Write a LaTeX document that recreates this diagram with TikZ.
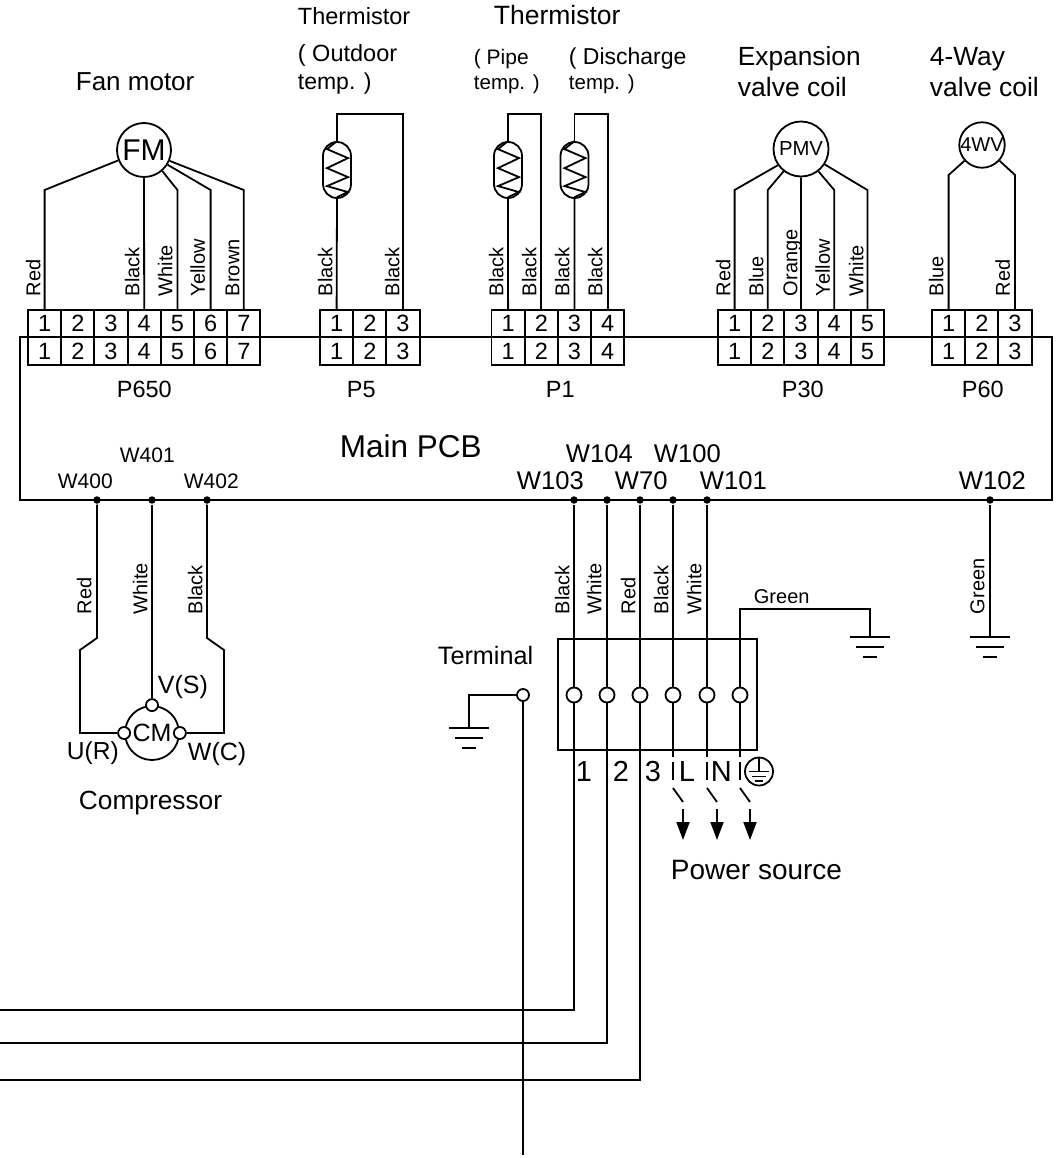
\documentclass[tikz,border=0pt]{standalone}
\usepackage{fontspec}
\setmainfont{Liberation Sans}
\usetikzlibrary{arrows.meta}

\newcommand{\fsz}[1]{\fontsize{#1}{#1}\selectfont}
% two rows of numbered pins
\newcommand{\connector}[3]{%
	\foreach \i in {1,...,#3} {
		\node[pinbox] (#1t\i) at ({#2+(\i-.5)*33.2},323.5) {\i};
		\node[pinbox] (#1b\i) at ({#2+(\i-.5)*33.2},351) {\i};
	}
}
% capsule with a zigzag
\newcommand{\thermistor}[2]{%
	\node[capsule] (#1) at (#2,170) {};
	\draw (#1.north) -- ++(-10,8) -- ++(21,9) -- ++(-21,10) -- ++(21,9) -- ++(-21,9) -- ++(21,6) -- ++(-11,5);
}

\begin{document}
\begin{tikzpicture}[x=1pt,y=-1pt,line width=1.8pt,
	pinbox/.style={draw,line width=1.9pt,minimum width=33.2pt,minimum height=27.5pt,inner sep=0pt,text height=16.5pt,text depth=0pt,font=\fsz{23.5}},
	capsule/.style={draw,rectangle,rounded corners=13.9pt,minimum width=28pt,minimum height=56pt,inner sep=0pt},
	motor/.style={draw,circle,inner sep=0pt},
	wiredot/.style={circle,fill,inner sep=0pt,minimum size=7.5pt},
	term/.style={circle,draw,fill=white,inner sep=0pt,minimum size=15pt},
	tag/.style={anchor=base west,inner sep=0pt,font=\fsz{#1}},
	tag/.default=20,
	wirelabel/.style={rotate=90,anchor=west,inner sep=0pt,text height=14.5pt,text depth=0pt,font=\fsz{20}},
	gnd/.pic={\draw (-20,0) -- (20,0) (-14,10) -- (14,10) (-7,20) -- (7,20);},
	tip/.style={-{Triangle[width=13pt,length=18pt]}}]
	\useasboundingbox (0,0) rectangle (1056,1158);

	% main board and its connectors
	\node[draw,minimum width=1032pt,minimum height=163pt,inner sep=0pt,line width=1.5pt] (PCB) at (536,418.5) {};
	\node[tag=31.5] (mainpcb) at (339,457) {Main PCB};
	\connector{Pfm}{28}{7}
	\connector{Pfive}{320}{3}
	\connector{Pone}{491.5}{4}
	\connector{Pthirty}{718}{5}
	\connector{Psixty}{932}{3}
	\node[tag=23.5] (pfmname) at (116,397) {P650};
	\node[tag=23.5] (pfivename) at (346,397) {P5};
	\node[tag=23.5] (ponename) at (545,397) {P1};
	\node[tag=23.5] (pthirtyname) at (781,397) {P30};
	\node[tag=23.5] (psixtyname) at (961,397) {P60};

	% fan motor
	\node[tag=26] (fantext) at (75,91) {Fan motor};
	\node[motor,minimum size=54pt,font=\fsz{30}] (FM) at (144,150) {FM};
	\draw (Pfmt1.north) -- (Pfmt1.north |- 0,190) -- (FM.202);
	\draw (Pfmt4.north) -- (FM.south);
	\draw (Pfmt5.north) -- (Pfmt5.north |- 0,190) -- (FM.-49);
	\draw (Pfmt6.north) -- (Pfmt6.north |- 0,190) -- (FM.-32);
	\draw (Pfmt7.north) -- (Pfmt7.north |- 0,190) -- (FM.-23);
	\foreach \x/\t in {33/Red,132/Black,165/White,197.5/Yellow,232/Brown}
		\node[wirelabel] (fm\t) at (\x,297) {\t};

	% thermistors
	\node[tag=23.5] (thA) at (297,25) {Thermistor};
	\node[tag=23.5] (thB) at (297,62) {( Outdoor};
	\node[tag=23] (thC) at (297,90) {temp. )};
	\node[tag=26.5] (thD) at (493,25) {Thermistor};
	\node[tag=21] (thE) at (473,65) {( Pipe};
	\node[tag=20.5] (thF) at (473,90) {temp. )};
	\node[tag=23] (thG) at (568,65) {( Discharge};
	\node[tag=20.5] (thH) at (568,90) {temp. )};
	\thermistor{thOut}{337}
	\thermistor{thPipe}{508}
	\thermistor{thDis}{574.5}
	\draw (Pfivet1.north) -- (thOut.south);
	\draw (thOut.north) -- (thOut.north |- 0,114) -| (Pfivet3.north);
	\draw (Ponet1.north) -- (thPipe.south);
	\draw (thPipe.north) -- (thPipe.north |- 0,114) -| (Ponet2.north);
	\draw (Ponet3.north) -- (thDis.south);
	\draw (thDis.north) -- (thDis.north |- 0,114) -| (Ponet4.north);
	\foreach \x in {325,392}
		\node[wirelabel] (pf\x) at (\x,297) {Black};
	\foreach \x in {496,529,562,595}
		\node[wirelabel] (po\x) at (\x,297) {Black};

	% expansion valve
	\node[tag=26.3] (pmvA) at (737,66) {Expansion};
	\node[tag=26.5] (pmvB) at (737,97) {valve coil};
	\node[motor,minimum size=55pt,font=\fsz{20.3}] (PMV) at (801,149) {PMV};
	\draw (Pthirtyt1.north) -- (Pthirtyt1.north |- 0,190) -- (PMV.215);
	\draw (Pthirtyt2.north) -- (Pthirtyt2.north |- 0,190) -- (PMV.232);
	\draw (Pthirtyt3.north) -- (PMV.south);
	\draw (Pthirtyt4.north) -- (Pthirtyt4.north |- 0,190) -- (PMV.-52);
	\draw (Pthirtyt5.north) -- (Pthirtyt5.north |- 0,190) -- (PMV.-33);
	\foreach \x/\t in {723/Red,756/Blue,790/Orange,822.5/Yellow,856/White}
		\node[wirelabel] (pv\t) at (\x,297) {\t};

	% four way valve
	\node[tag=26.3] (wvA) at (929,66) {4-Way};
	\node[tag=26.5] (wvB) at (929,97) {valve coil};
	\node[motor,minimum size=45pt,font=\fsz{20}] (WV) at (982,145) {4WV};
	\draw (Psixtyt1.north) -- (Psixtyt1.north |- 0,175) -- (WV.222);
	\draw (Psixtyt3.north) -- (Psixtyt3.north |- 0,175) -- (WV.-42);
	\node[wirelabel] (wvblue) at (936,297) {Blue};
	\node[wirelabel] (wvred) at (1002.5,297) {Red};

	% board terminals
	\foreach \n/\x in {W400/97,W401/152,W402/207,W103/574,W104/607,W70/640,W100/673,W101/707,W102/990}
		\node[wiredot] (\n) at (\x,500) {};
	\node[tag=21] (t400) at (57,488) {W400};
	\node[tag=21] (t401) at (119,462) {W401};
	\node[tag=21] (t402) at (183,488) {W402};
	\node[tag=25.6] (t103) at (516,489) {W103};
	\node[tag=25.6] (t104) at (565,462) {W104};
	\node[tag=25.6] (t70) at (614,489) {W70};
	\node[tag=25.6] (t100) at (653,462) {W100};
	\node[tag=25.6] (t101) at (699,489) {W101};
	\node[tag=25.6] (t102) at (958,489) {W102};

	% compressor
	\node[motor,minimum size=54pt,font=\fsz{25}] (CM) at (152,733) {CM};
	\node[term,minimum size=12pt] (CMu) at (CM.west) {};
	\node[term,minimum size=12pt] (CMv) at (CM.north) {};
	\node[term,minimum size=12pt] (CMw) at (CM.east) {};
	\draw (W400) -- (97,638) -- (80,650) |- (CMu);
	\draw (W401) -- (CMv);
	\draw (W402) -- (207,638) -- (224,650) |- (CMw);
	\node[tag=25] (vs) at (157,693) {V(S)};
	\node[tag=24.6] (ur) at (66,759) {U(R)};
	\node[tag=25] (wc) at (187,760) {W(C)};
	\node[tag=26.3] (comp) at (78,809) {Compressor};
	\node[wirelabel] (cmred) at (84,615) {Red};
	\node[wirelabel] (cmwhite) at (140,615) {White};
	\node[wirelabel] (cmblack) at (195,615) {Black};

	% terminal block
	\node[draw,minimum width=199pt,minimum height=111pt,inner sep=0pt,line width=1.5pt] (TB) at (657.5,694.5) {};
	\foreach \i/\x in {1/574,2/607,3/640,4/673,5/707,6/740}
		\node[term] (T\i) at (\x,695) {};
	\draw (W103) -- (T1.north);
	\draw (W104) -- (T2.north);
	\draw (W70) -- (T3.north);
	\draw (W100) -- (T4.north);
	\draw (W101) -- (T5.north);
	\draw (T1.south) -- (574,1010) -- (0,1010);
	\draw (T2.south) -- (607,1043) -- (0,1043);
	\draw (T3.south) -- (640,1080) -- (0,1080);
	\foreach \x/\t in {562/Black,594/White,628/Red,661/Black,694/White}
		\node[wirelabel] (tw\x) at (\x,615) {\t};
	\node[tag=25.2] (termtext) at (437,664) {Terminal};
	\node[tag=29] (n1) at (575,781) {1};
	\node[tag=29] (n2) at (612,781) {2};
	\node[tag=29] (n3) at (644,781) {3};
	\node[tag=29] (nL) at (678,781) {L};
	\node[tag=29] (nN) at (710,781) {N};
	\node[motor,minimum size=28pt] (PE) at (759,771.5) {};
	\draw (PE.north) -- (759,771.5) (749,771.5) -- (769,771.5) (752,776.5) -- (766,776.5) (755,781) -- (763,781);
	% mains side
	\foreach \i/\x in {4/673,5/707,6/740} {
		\coordinate (a\i) at (\x,757);
		\coordinate (b\i) at (\x,762);
		\coordinate (c\i) at (\x,780);
		\coordinate (d\i) at (\x,788);
		\coordinate (e\i) at ({\x+10},802);
		\coordinate (f\i) at ({\x+10},809);
		\coordinate (g\i) at ({\x+10},840);
		\draw (T\i.south) -- (a\i);
		\draw (b\i) -- (c\i);
		\draw (d\i) -- (e\i);
		\draw[tip] (f\i) -- (g\i);
	}
	\node[tag=28] (power) at (670,879) {Power source};

	% earth wires
	\coordinate (gA) at (870,637);
	\coordinate (gB) at (990,637);
	\coordinate (gC) at (469,728);
	\draw (T6.north) -- (740,609) -| (gA);
	\draw (W102) -- (gB);
	\node[term,minimum size=12pt] (Tg) at (523,695) {};
	\draw (Tg) -| (gC);
	\draw (Tg.south) -- (523,1155);
	\pic at (gA) {gnd};
	\pic at (gB) {gnd};
	\pic at (gC) {gnd};
	\node[tag=20] (greentext) at (753,603) {Green};
	\node[wirelabel] (greenlabel) at (977,615) {Green};
\end{tikzpicture}
\end{document}
